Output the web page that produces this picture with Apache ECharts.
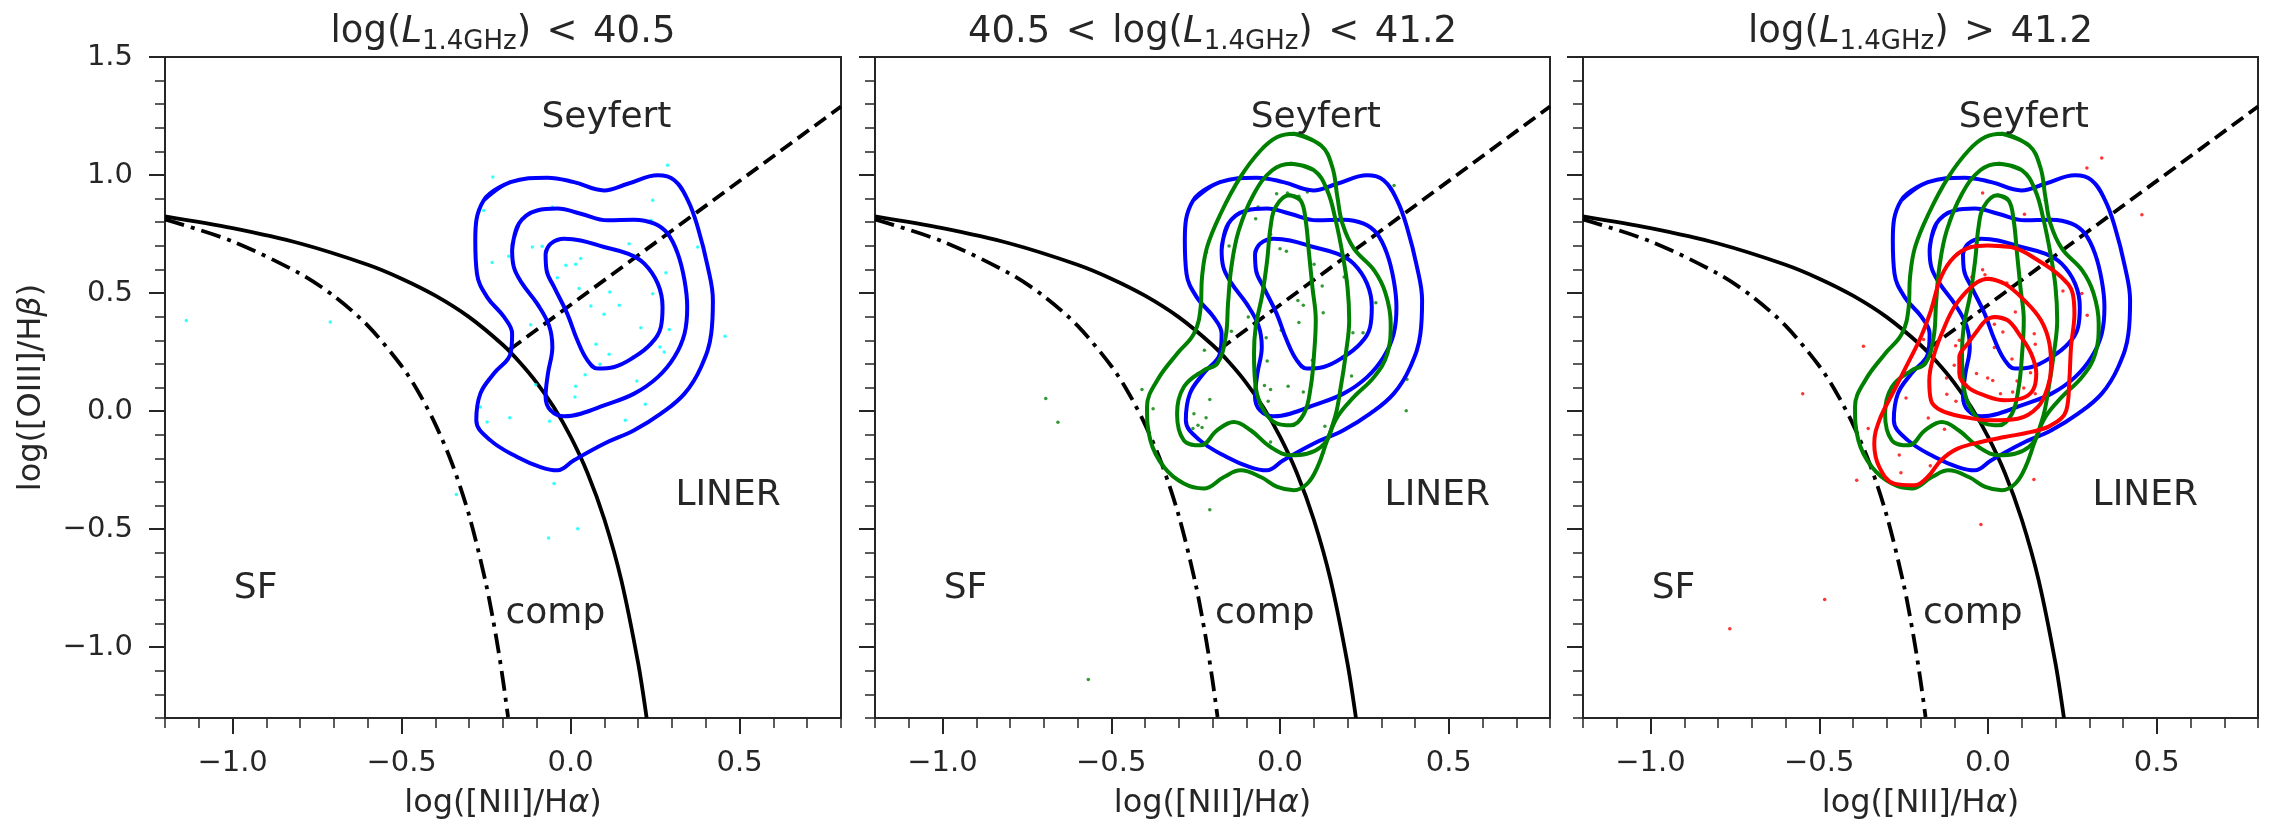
<!DOCTYPE html>
<html><head><meta charset="utf-8">
<script src="https://cdn.jsdelivr.net/npm/echarts@6/dist/echarts.min.js"></script>
<style>html,body{margin:0;padding:0;background:#fff;}#c{width:2291px;height:839px;}</style>
</head><body><div id="c"></div>
<script>
// ---------- data ----------
const panelTitles = [
  '{t|log(}{i|L}{s|1.4GHz}{t|)\u200A <\u200A 40.5}',
  '{t|40.5\u200A <\u200A log(}{i|L}{s|1.4GHz}{t|)\u200A <\u200A 41.2}',
  '{t|log(}{i|L}{s|1.4GHz}{t|)\u200A >\u200A 41.2}'
];
const xMajorTicks = [-1.0, -0.5, 0.0, 0.5];
const yMajorTicks = [-1.0, -0.5, 0.0, 0.5, 1.0, 1.5];

const regionNames = ['Seyfert', 'LINER', 'SF', 'comp'];
const regionX = [0.106, 0.466, -0.932, -0.045];
const regionY = [1.245, -0.356, -0.754, -0.856];

// Kewley (solid)
const kewleyCurve = [[-1.2,0.825],[-1.0,0.775],[-0.8,0.710],[-0.6,0.620],[-0.5,0.561],[-0.4,0.489],[-0.3,0.398],[-0.2,0.280],[-0.15,0.206],[-0.1,0.120],[-0.05,0.017],[0.0,-0.108],[0.05,-0.262],[0.1,-0.459],[0.15,-0.716],[0.2,-1.069],[0.225,-1.300]];
// Kauffmann (dash-dot)
const kauffmannCurve = [[-1.2,0.812],[-1.0,0.719],[-0.8,0.582],[-0.7,0.487],[-0.6,0.362],[-0.5,0.191],[-0.45,0.080],[-0.4,-0.056],[-0.35,-0.225],[-0.3,-0.443],[-0.25,-0.733],[-0.22,-0.959],[-0.2,-1.140],[-0.185,-1.296]];
// Seyfert/LINER divider (dashed)
const dividerLine = [[-0.18,0.261],[0.8,1.29]];

// blue contours (low-L sample)
const blueOuter = [[-0.257,0.893],[-0.178,0.970],[-0.069,0.989],[0.010,0.970],[0.099,0.935],[0.169,0.963],[0.258,0.999],[0.307,0.978],[0.347,0.893],[0.376,0.780],[0.406,0.610],[0.421,0.469],[0.416,0.328],[0.386,0.187],[0.337,0.074],[0.267,-0.011],[0.188,-0.081],[0.099,-0.138],[0.010,-0.208],[-0.039,-0.251],[-0.089,-0.237],[-0.158,-0.194],[-0.237,-0.124],[-0.279,-0.039],[-0.267,0.074],[-0.227,0.159],[-0.178,0.243],[-0.173,0.328],[-0.197,0.399],[-0.247,0.483],[-0.277,0.582],[-0.282,0.723]];
const blueMiddle = [[-0.173,0.681],[-0.153,0.794],[-0.099,0.850],[-0.039,0.858],[0.030,0.836],[0.109,0.808],[0.188,0.811],[0.248,0.794],[0.287,0.752],[0.317,0.667],[0.337,0.554],[0.345,0.441],[0.337,0.328],[0.307,0.229],[0.258,0.144],[0.188,0.074],[0.099,0.024],[0.030,-0.011],[-0.019,-0.022],[-0.059,0.003],[-0.074,0.060],[-0.067,0.159],[-0.054,0.272],[-0.064,0.363],[-0.099,0.455],[-0.143,0.540],[-0.168,0.610]];
const blueInner = [[-0.074,0.667],[-0.059,0.709],[-0.019,0.730],[0.030,0.723],[0.099,0.695],[0.169,0.667],[0.218,0.625],[0.258,0.540],[0.272,0.441],[0.267,0.356],[0.238,0.286],[0.188,0.229],[0.129,0.187],[0.080,0.180],[0.050,0.215],[0.020,0.300],[-0.010,0.413],[-0.049,0.526],[-0.071,0.596]];

// green contours (mid-L sample)
const greenOuter = [[0.041,1.175],[0.121,1.126],[0.155,1.034],[0.170,0.907],[0.185,0.794],[0.219,0.688],[0.279,0.596],[0.313,0.498],[0.328,0.370],[0.318,0.243],[0.279,0.145],[0.219,0.060],[0.170,-0.025],[0.140,-0.124],[0.111,-0.237],[0.081,-0.307],[0.041,-0.335],[-0.008,-0.321],[-0.057,-0.279],[-0.117,-0.251],[-0.166,-0.279],[-0.226,-0.328],[-0.285,-0.307],[-0.344,-0.237],[-0.384,-0.124],[-0.394,0.018],[-0.364,0.130],[-0.305,0.243],[-0.255,0.328],[-0.235,0.441],[-0.231,0.568],[-0.216,0.695],[-0.176,0.836],[-0.117,0.992],[-0.057,1.105],[-0.008,1.161]];
const greenMiddle = [[0.032,1.048],[0.101,1.020],[0.140,0.935],[0.165,0.808],[0.185,0.667],[0.200,0.526],[0.205,0.385],[0.195,0.243],[0.180,0.102],[0.160,-0.039],[0.121,-0.152],[0.032,-0.187],[-0.028,-0.152],[-0.087,-0.081],[-0.137,-0.046],[-0.186,-0.081],[-0.235,-0.145],[-0.285,-0.124],[-0.305,-0.011],[-0.285,0.102],[-0.226,0.173],[-0.186,0.201],[-0.161,0.314],[-0.154,0.455],[-0.144,0.611],[-0.122,0.766],[-0.077,0.921],[-0.023,1.020]];
const greenInner = [[0.027,0.914],[0.061,0.893],[0.076,0.808],[0.086,0.667],[0.096,0.526],[0.106,0.385],[0.101,0.243],[0.091,0.102],[0.071,-0.011],[0.032,-0.060],[-0.008,-0.053],[-0.048,0.003],[-0.072,0.102],[-0.077,0.243],[-0.072,0.356],[-0.052,0.498],[-0.038,0.639],[-0.028,0.780],[-0.013,0.865]];

// red contours (high-L sample)
const redOuter = [[-0.001,0.702],[0.068,0.695],[0.148,0.639],[0.217,0.568],[0.251,0.498],[0.256,0.413],[0.246,0.272],[0.241,0.130],[0.232,0.003],[0.187,-0.060],[0.128,-0.088],[0.049,-0.110],[-0.021,-0.131],[-0.090,-0.159],[-0.139,-0.208],[-0.179,-0.279],[-0.218,-0.314],[-0.278,-0.307],[-0.322,-0.237],[-0.337,-0.138],[-0.322,-0.039],[-0.283,0.074],[-0.238,0.201],[-0.199,0.314],[-0.169,0.427],[-0.139,0.568],[-0.100,0.653],[-0.050,0.695]];
const redMiddle = [[-0.001,0.561],[0.049,0.540],[0.108,0.469],[0.157,0.385],[0.182,0.286],[0.187,0.187],[0.177,0.102],[0.148,0.018],[0.088,-0.032],[0.009,-0.039],[-0.070,-0.025],[-0.139,0.003],[-0.169,0.046],[-0.174,0.130],[-0.159,0.243],[-0.129,0.356],[-0.100,0.441],[-0.060,0.512],[-0.031,0.547]];
const redInner = [[0.019,0.399],[0.058,0.385],[0.098,0.314],[0.128,0.243],[0.143,0.159],[0.133,0.088],[0.098,0.053],[0.049,0.046],[-0.011,0.067],[-0.060,0.102],[-0.085,0.159],[-0.085,0.229],[-0.060,0.286],[-0.031,0.342],[-0.006,0.385]];

// individual galaxies
const cyanPoints = [[-0.230,0.992],[0.287,1.041],[0.243,0.893],[-0.257,0.850],[-0.054,0.865],[0.238,0.808],[0.173,0.709],[-0.113,0.695],[-0.084,0.698],[-0.183,0.656],[-0.232,0.629],[0.030,0.646],[-0.014,0.618],[0.015,0.622],[0.188,0.660],[0.376,0.695],[-0.039,0.565],[0.282,0.586],[0.025,0.519],[0.116,0.505],[0.243,0.497],[0.060,0.445],[0.144,0.448],[0.099,0.410],[0.208,0.353],[0.292,0.346],[-0.118,0.366],[0.457,0.317],[0.075,0.283],[0.264,0.272],[0.277,0.250],[0.114,0.241],[0.087,0.198],[0.043,0.154],[0.196,0.128],[0.015,0.105],[-0.103,0.112],[0.013,0.060],[0.221,0.029],[-0.267,0.017],[-0.180,-0.028],[-0.247,-0.046],[-0.062,-0.043],[0.162,-0.039],[-0.049,-0.307],[-1.137,0.384],[-0.711,0.377],[0.021,-0.498],[-0.065,-0.538],[-0.338,-0.353]];
const greenPoints = [[-0.010,0.921],[0.022,0.924],[0.056,0.910],[0.081,0.928],[0.338,0.956],[-0.065,0.865],[-0.072,0.815],[-0.028,0.749],[0.000,0.688],[0.019,0.677],[-0.151,0.699],[-0.218,0.673],[0.101,0.622],[0.190,0.568],[0.125,0.530],[0.053,0.469],[0.069,0.448],[0.128,0.417],[0.284,0.459],[-0.094,0.399],[0.056,0.375],[0.004,0.342],[-0.041,0.311],[-0.144,0.338],[0.216,0.332],[0.246,0.332],[-0.224,0.258],[-0.038,0.212],[0.096,0.215],[0.212,0.149],[0.376,0.135],[-0.046,0.109],[-0.028,0.091],[0.024,0.105],[0.069,0.081],[-0.035,0.042],[-0.208,0.049],[-0.376,0.010],[-0.409,0.091],[-0.255,-0.011],[-0.219,-0.028],[-0.243,-0.060],[-0.258,-0.074],[0.133,-0.064],[0.374,0.001],[-0.028,-0.131],[-0.694,0.053],[-0.658,-0.047],[-0.208,-0.418],[-0.568,-1.137],[-0.231,-0.069]];
const redPoints = [[0.337,1.072],[0.293,1.030],[-0.016,0.924],[0.170,0.893],[0.108,0.834],[0.456,0.832],[-0.016,0.599],[-0.009,0.578],[-0.048,0.568],[0.056,0.543],[0.222,0.509],[0.278,0.498],[0.081,0.420],[0.294,0.406],[0.019,0.368],[0.044,0.335],[0.137,0.328],[0.140,0.283],[0.019,0.269],[-0.096,0.277],[-0.085,0.300],[-0.191,0.303],[-0.369,0.275],[0.071,0.221],[-0.100,0.194],[0.126,0.163],[-0.034,0.159],[-0.001,0.140],[0.014,0.130],[-0.123,0.140],[0.086,0.128],[0.106,0.098],[0.073,0.081],[0.037,0.074],[-0.122,0.071],[0.140,0.074],[-0.095,0.042],[-0.243,0.056],[-0.177,-0.029],[-0.129,-0.077],[-0.009,-0.124],[-0.355,-0.074],[-0.263,-0.186],[-0.171,-0.231],[-0.258,-0.261],[-0.389,-0.293],[0.136,-0.290],[-0.549,0.074],[-0.021,-0.480],[-0.484,-0.798],[-0.765,-0.922]];

// ---------- chart ----------
const FONT = 'DejaVu Sans';
const INK = '#262626';
const grids = [
  {left: 165, top: 57, width: 676, height: 661},
  {left: 875, top: 57, width: 675, height: 661},
  {left: 1583, top: 57, width: 675, height: 661}
];
const fmt = v => { const s = Math.abs(v).toFixed(1); return v < -1e-9 ? '\u2212' + s : s; };

const xAxis = [], yAxis = [];
grids.forEach((g, i) => {
  xAxis.push({
    gridIndex: i, type: 'value', min: -1.2, max: 0.8, position: 'bottom',
    axisLine: {show: true, onZero: false, lineStyle: {color: INK, width: 2}},
    axisTick: {show: true, length: 16, lineStyle: {color: INK, width: 2}, customValues: xMajorTicks},
    axisLabel: {show: true, customValues: xMajorTicks, formatter: fmt, fontSize: 29, color: INK, fontFamily: FONT, margin: 31},
    splitLine: {show: false},
    name: '{n|log([NII]/H}{i|α}{n|)}', nameLocation: 'middle', nameGap: 70,
    nameTextStyle: {rich: {
      n: {fontSize: 32, fontFamily: FONT, color: INK, lineHeight: 32},
      i: {fontSize: 32, fontFamily: FONT, color: INK, fontStyle: 'italic', lineHeight: 32}
    }}
  });
  xAxis.push({
    gridIndex: i, type: 'value', min: -1.2, max: 0.8, interval: 0.1, position: 'bottom',
    axisLine: {show: false, onZero: false}, axisTick: {show: true, length: 10, lineStyle: {color: INK, width: 1.5}},
    axisLabel: {show: false}, splitLine: {show: false}
  });
  const yMajor = {
    gridIndex: i, type: 'value', min: -1.3, max: 1.5, position: 'left',
    axisLine: {show: true, onZero: false, lineStyle: {color: INK, width: 2}},
    axisTick: {show: true, length: 16, lineStyle: {color: INK, width: 2}, customValues: yMajorTicks},
    axisLabel: {show: i === 0, customValues: yMajorTicks, formatter: fmt, fontSize: 29, color: INK, fontFamily: FONT, margin: 32},
    splitLine: {show: false}
  };
  if (i === 0) {
    yMajor.name = '{n|log([OIII]/H}{i|β}{n|)}';
    yMajor.nameLocation = 'middle';
    yMajor.nameGap = 117;
    yMajor.nameTextStyle = {rich: {
      n: {fontSize: 32, fontFamily: FONT, color: INK, lineHeight: 32},
      i: {fontSize: 32, fontFamily: FONT, color: INK, fontStyle: 'italic', lineHeight: 32}
    }};
  }
  yAxis.push(yMajor);
  yAxis.push({
    gridIndex: i, type: 'value', min: -1.3, max: 1.5, interval: 0.1, position: 'left',
    axisLine: {show: false, onZero: false}, axisTick: {show: true, length: 10, lineStyle: {color: INK, width: 1.5}},
    axisLabel: {show: false}, splitLine: {show: false}
  });
});

const closeLoop = arr => arr.concat([arr[0], arr[1]]);
function lineSeries(p, data, color, width, type, z, smooth) {
  return {type: 'line', xAxisIndex: 2 * p, yAxisIndex: 2 * p, data: data, symbol: 'none', showSymbol: false,
    smooth: smooth, lineStyle: {color: color, width: width, type: type, cap: 'butt'}, z: z, silent: true, animation: false};
}
function pointSeries(p, data, color) {
  return {type: 'scatter', xAxisIndex: 2 * p, yAxisIndex: 2 * p, data: data, symbolSize: 3.5,
    itemStyle: {color: color}, z: 3, silent: true, animation: false};
}
const regionData = regionNames.map((n, k) => [regionX[k], regionY[k], n]);
const series = [];
for (let p = 0; p < 3; p++) {
  series.push(lineSeries(p, kewleyCurve, '#000', 3.8, 'solid', 2, 0.3));
  series.push(lineSeries(p, kauffmannCurve, '#000', 3.8, [20, 7, 4, 7], 2, 0.3));
  series.push(lineSeries(p, dividerLine, '#000', 3.8, [14, 7], 2, false));
  series.push({
    type: 'custom', xAxisIndex: 2 * p, yAxisIndex: 2 * p, data: regionData, silent: true, animation: false, z: 6,
    encode: {x: 0, y: 1},
    renderItem: function (params, api) {
      const pt = api.coord([api.value(0), api.value(1)]);
      return {type: 'text', x: pt[0], y: pt[1], style: {
        text: regionData[params.dataIndex][2], fill: INK, fontSize: 36, fontFamily: FONT,
        align: 'center', verticalAlign: 'middle'}};
    }
  });
}
series.push(pointSeries(0, cyanPoints, '#00ffff'));
series.push(pointSeries(1, greenPoints, '#008000'));
series.push(pointSeries(2, redPoints, '#ff0000'));
const blue = [blueOuter, blueMiddle, blueInner];
const green = [greenOuter, greenMiddle, greenInner];
const red = [redOuter, redMiddle, redInner];
for (let p = 0; p < 3; p++) blue.forEach(c => series.push(lineSeries(p, closeLoop(c), '#0000ff', 4, 'solid', 4, 0.4)));
for (let p = 1; p < 3; p++) green.forEach(c => series.push(lineSeries(p, closeLoop(c), '#008000', 4, 'solid', 4, 0.4)));
red.forEach(c => series.push(lineSeries(2, closeLoop(c), '#ff0000', 4, 'solid', 5, 0.4)));

const titleRich = {
  t: {fontSize: 37, fontFamily: FONT, color: INK, lineHeight: 37, verticalAlign: 'top'},
  i: {fontSize: 37, fontFamily: FONT, color: INK, lineHeight: 37, verticalAlign: 'top', fontStyle: 'italic'},
  s: {fontSize: 26, fontFamily: FONT, color: INK, lineHeight: 26, verticalAlign: 'top', padding: [15, 0, 0, 0]}
};
const title = grids.map((g, i) => ({
  text: panelTitles[i], left: g.left + g.width / 2, top: 14, textAlign: 'center', padding: 0,
  textStyle: {fontSize: 37, fontWeight: 'normal', fontFamily: FONT, color: INK, rich: titleRich}
}));

const chart = echarts.init(document.getElementById('c'), null, {renderer: 'canvas'});
chart.setOption({
  backgroundColor: '#ffffff',
  animation: false,
  title: title,
  grid: grids.map(g => Object.assign({show: true, borderColor: INK, borderWidth: 2, backgroundColor: '#fff', containLabel: false}, g)),
  xAxis: xAxis,
  yAxis: yAxis,
  series: series
});
</script></body></html>
